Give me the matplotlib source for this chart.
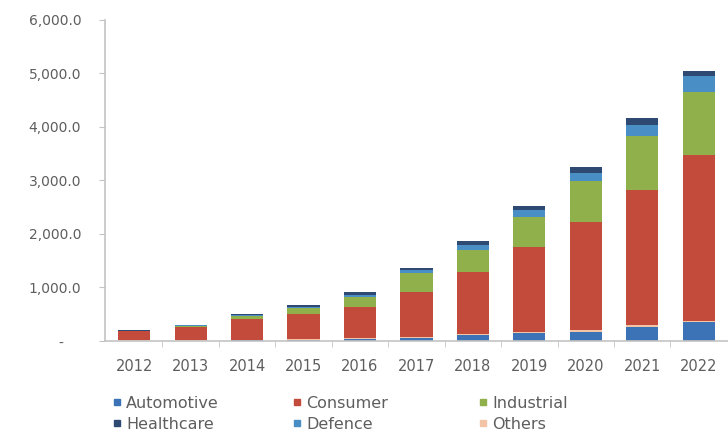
import numpy as np
import matplotlib.pyplot as plt
from matplotlib.lines import Line2D
from matplotlib.ticker import FuncFormatter, FixedLocator

years = ["2012", "2013", "2014", "2015", "2016", "2017", "2018", "2019", "2020", "2021", "2022"]

# market size by application segment
automotive = [5, 8, 15, 25, 35, 60, 110, 150, 170, 260, 350]
others = [5, 5, 8, 10, 12, 20, 25, 25, 30, 30, 25]
consumer = [170, 250, 390, 470, 580, 840, 1160, 1590, 2030, 2540, 3100]
industrial = [10, 20, 50, 110, 200, 355, 410, 545, 755, 1000, 1180]
defence = [5, 10, 15, 25, 30, 45, 90, 140, 160, 200, 300]
healthcare = [5, 10, 25, 40, 60, 50, 80, 80, 100, 130, 95]

colors = {
    "Automotive": "#3c72b6",
    "Consumer": "#c24b3b",
    "Industrial": "#90b04c",
    "Healthcare": "#2e4a72",
    "Defence": "#4a8ec6",
    "Others": "#f3c4a6",
}

# bottom-to-top stacking order
stack = [
    ("Automotive", automotive),
    ("Others", others),
    ("Consumer", consumer),
    ("Industrial", industrial),
    ("Defence", defence),
    ("Healthcare", healthcare),
]

plt.rcParams["font.family"] = ["DejaVu Sans"]

fig = plt.figure(figsize=(7.28, 4.4), dpi=100)
ax = fig.add_axes([0.144, 0.225, 0.856, 0.73])

x = np.arange(len(years))
bottom = np.zeros(len(years))
for name, vals in stack:
    vals = np.array(vals, dtype=float)
    ax.bar(x, vals, width=0.57, bottom=bottom, color=colors[name], linewidth=0)
    bottom += vals

ax.set_xlim(-0.52, len(years) - 0.48)
ax.set_ylim(0, 6000)
ax.set_yticks(np.arange(0, 6001, 1000))
ax.yaxis.set_major_formatter(FuncFormatter(lambda v, p: "-    " if v == 0 else f"{v:,.1f}"))
ax.set_xticks(x)
ax.set_xticklabels(years)
ax.xaxis.set_minor_locator(FixedLocator(x[:-1] + 0.5))

for side in ["top", "right"]:
    ax.spines[side].set_visible(False)
for side in ["left", "bottom"]:
    ax.spines[side].set_color("#c4c4c4")
    ax.spines[side].set_linewidth(1.2)

ax.tick_params(axis="y", length=4, color="#c4c4c4", labelsize=10, labelcolor="#5e5e5e", pad=13)
ax.tick_params(axis="x", which="major", length=0, labelsize=10.5, labelcolor="#5e5e5e", pad=13)
ax.tick_params(axis="x", which="minor", length=4, color="#c4c4c4")

# legend: three columns, two entries each
columns = [("Automotive", "Healthcare"), ("Consumer", "Defence"), ("Industrial", "Others")]
col_x = [112 / 728, 292 / 728, 478 / 728]
for names, cx in zip(columns, col_x):
    handles = [Line2D([], [], marker="s", linestyle="", markersize=5,
                      markerfacecolor=colors[n], markeredgecolor=colors[n]) for n in names]
    fig.legend(handles, names, ncol=1, loc="upper left", bbox_to_anchor=(cx, 0.1),
               frameon=False, fontsize=11.5, labelcolor="#5e5e5e", handlelength=0.6,
               handletextpad=0.3, labelspacing=0.35, borderaxespad=0, borderpad=0)

fig.savefig("out.png", dpi=100)
